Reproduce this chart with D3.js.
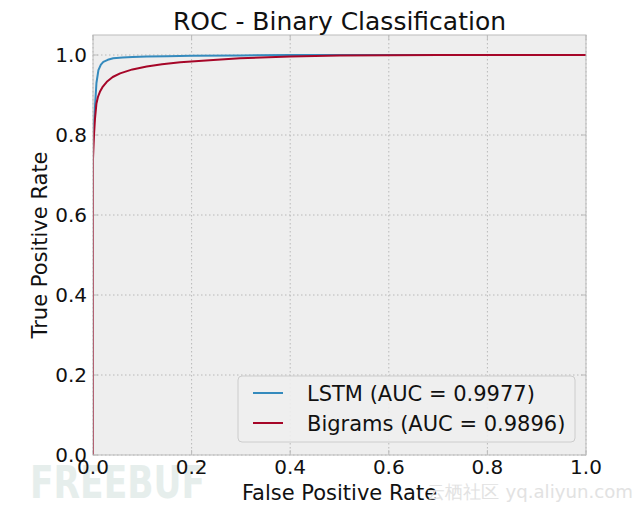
<!DOCTYPE html>
<html><head><meta charset="utf-8">
<script src="https://cdn.jsdelivr.net/npm/d3@7"></script>
<style>
body{margin:0;background:#fff;}
text{font-family:"DejaVu Sans",sans-serif;}
</style></head>
<body><svg id="c" width="640" height="511"></svg>
<script>
const seriesNames = ["LSTM (AUC = 0.9977)", "Bigrams (AUC = 0.9896)"];
const seriesColors = ["#348ABD", "#A60628"];
const lstmFpr = [0, 0, 0.002, 0.004, 0.007, 0.011, 0.016, 0.021, 0.03, 0.041, 0.06, 0.08, 0.109, 0.15, 0.2, 0.3, 0.4, 0.6, 1.0];
const lstmTpr = [0, 0.78, 0.83, 0.87, 0.93, 0.962, 0.976, 0.983, 0.988, 0.992, 0.994, 0.995, 0.996, 0.997, 0.998, 0.999, 1.0, 1.0, 1.0];
const bigramFpr = [0, 0, 0.002, 0.004, 0.007, 0.01, 0.014, 0.02, 0.028, 0.04, 0.055, 0.08, 0.109, 0.14, 0.177, 0.244, 0.298, 0.4, 0.5, 0.7, 1.0];
const bigramTpr = [0, 0.74, 0.8, 0.84, 0.879, 0.895, 0.908, 0.921, 0.933, 0.945, 0.954, 0.964, 0.971, 0.977, 0.982, 0.9875, 0.992, 0.996, 0.999, 1.0, 1.0];
const xTicks = [0, 0.2, 0.4, 0.6, 0.8, 1.0];
const yTicks = [0, 0.2, 0.4, 0.6, 0.8, 1.0];

const svg = d3.select("#c");
const L = 93, R = 586, T = 35, B = 455;
const x = d3.scaleLinear().domain([0, 1]).range([L, R]);
const y = d3.scaleLinear().domain([0, 1.05]).range([B, T]);

// watermarks (behind)
svg.append("text").attr("x", 30).attr("y", 498).attr("font-size", 44).attr("font-weight", "bold")
  .attr("fill", "#e6eeec").attr("font-family", "Liberation Sans Narrow, DejaVu Sans Condensed, sans-serif")
  .attr("textLength", 175).attr("lengthAdjust", "spacingAndGlyphs").text("FREEBUF");

svg.append("rect").attr("x", L).attr("y", T).attr("width", R - L).attr("height", B - T).attr("fill", "#eeeeee");

// grid
const g = svg.append("g");
g.selectAll(".gx").data(xTicks).join("line")
  .attr("x1", d => x(d)).attr("x2", d => x(d)).attr("y1", T).attr("y2", B)
  .attr("stroke", "#b8b8b8").attr("stroke-width", 1).attr("stroke-dasharray", "1.5,2.5");
g.selectAll(".gy").data(yTicks).join("line")
  .attr("y1", d => y(d)).attr("y2", d => y(d)).attr("x1", L).attr("x2", R)
  .attr("stroke", "#b8b8b8").attr("stroke-width", 1).attr("stroke-dasharray", "1.5,2.5");

// ticks inward
const tk = svg.append("g").attr("stroke", "#bcbcbc").attr("stroke-width", 1);
xTicks.forEach(d => {
  tk.append("line").attr("x1", x(d)).attr("x2", x(d)).attr("y1", B).attr("y2", B - 5);
  tk.append("line").attr("x1", x(d)).attr("x2", x(d)).attr("y1", T).attr("y2", T + 5);
});
yTicks.forEach(d => {
  tk.append("line").attr("y1", y(d)).attr("y2", y(d)).attr("x1", L).attr("x2", L + 5);
  tk.append("line").attr("y1", y(d)).attr("y2", y(d)).attr("x1", R).attr("x2", R - 5);
});

// curves
svg.append("clipPath").attr("id", "clip").append("rect").attr("x", L).attr("y", T).attr("width", R - L).attr("height", B - T);
const lineLin = d3.line().x(d => x(d[0])).y(d => y(d[1]));
const series = [d3.zip(lstmFpr, lstmTpr), d3.zip(bigramFpr, bigramTpr)];
series.forEach((s, i) => {
  svg.append("path").attr("d", lineLin(s)).attr("fill", "none")
    .attr("stroke", seriesColors[i]).attr("stroke-width", 2).attr("clip-path", "url(#clip)")
    .attr("stroke-linejoin", "round");
});

// spines
svg.append("rect").attr("x", L).attr("y", T).attr("width", R - L).attr("height", B - T)
  .attr("fill", "none").attr("stroke", "#bcbcbc").attr("stroke-width", 1);

// tick labels
svg.selectAll(".xl").data(xTicks).join("text")
  .attr("x", d => x(d)).attr("y", 474).attr("text-anchor", "middle")
  .attr("font-size", 20).attr("fill", "#111").text(d => d.toFixed(1));
svg.selectAll(".yl").data(yTicks).join("text")
  .attr("x", L - 6).attr("y", d => y(d) + 7).attr("text-anchor", "end")
  .attr("font-size", 20).attr("fill", "#111").text(d => d.toFixed(1));

// axis labels & title
svg.append("text").attr("x", x(0.5)).attr("y", 500).attr("text-anchor", "middle")
  .attr("font-size", 21).attr("fill", "#111").text("False Positive Rate");
svg.append("text").attr("transform", `translate(47,${(T + B) / 2}) rotate(-90)`).attr("text-anchor", "middle")
  .attr("font-size", 21).attr("fill", "#111").text("True Positive Rate");
svg.append("text").attr("x", x(0.5)).attr("y", 30).attr("text-anchor", "middle")
  .attr("font-size", 25).attr("fill", "#111").text("ROC - Binary Classification");

// legend
const lg = svg.append("g");
lg.append("rect").attr("x", 238).attr("y", 376).attr("width", 337).attr("height", 66).attr("rx", 4)
  .attr("fill", "#eeeeee").attr("fill-opacity", 0.9).attr("stroke", "#cccccc").attr("stroke-width", 1);
seriesNames.forEach((n, i) => {
  const yy = 393 + i * 30;
  lg.append("line").attr("x1", 253).attr("x2", 283).attr("y1", yy).attr("y2", yy)
    .attr("stroke", seriesColors[i]).attr("stroke-width", 2);
  lg.append("text").attr("x", 307).attr("y", yy + 8).attr("font-size", 21).attr("fill", "#111").text(n);
});

svg.append("text").attr("x", 427).attr("y", 498).attr("font-size", 18)
  .attr("fill", "#e2e2e2").attr("font-family", "Noto Sans CJK SC, sans-serif")
  .attr("textLength", 206).attr("lengthAdjust", "spacingAndGlyphs").text("云栖社区 yq.aliyun.com");
</script></body></html>
